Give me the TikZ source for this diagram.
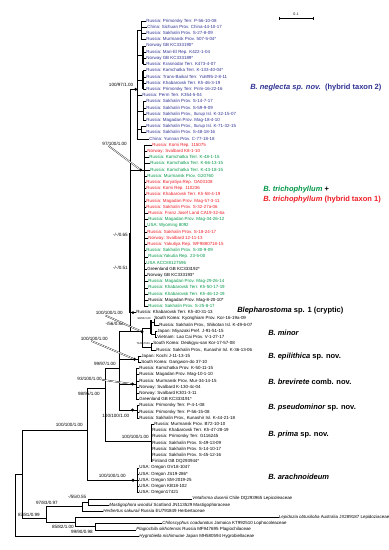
\documentclass[tikz,border=0pt]{standalone}
\usepackage{fontspec}
\setmainfont{Liberation Sans}
\definecolor{nb}{RGB}{46,49,146}
\definecolor{gr}{RGB}{0,150,70}
\definecolor{rd}{RGB}{237,28,36}
\begin{document}
\begin{tikzpicture}[x=1pt,y=-1pt,line width=0.5pt,
  leaf/.style={anchor=west,inner sep=0pt,text height=3.2pt,text depth=0.9pt,font=\fontsize{4.45}{5}\selectfont},
  sup/.style={anchor=east,inner sep=0pt,font=\fontsize{4.6}{5}\selectfont},
  tinysup/.style={anchor=east,inner sep=0pt,font=\fontsize{2.8}{3}\selectfont},
  clade/.style={anchor=west,inner sep=0pt,font=\fontsize{7.5}{8}\selectfont\bfseries},
  dotn/.style={circle,fill=black,inner sep=0pt,minimum size=3.2pt},
  ptr/.style={double=white,double distance=0.8pt,line width=0.3pt},
  bar/.style={line width=1.3pt}]
\useasboundingbox (0,0) rectangle (389,550);
% ---------------- leaves ----------------
\foreach \i/\x/\c/\t in {
1/147/nb/{Russia: Primorsky Terr. P-56-10-08},
2/148/nb/{China: Sichuan Prov. China-44-10-17},
3/147/nb/{Russia: Sakhalin Prov. S-27-8-09},
4/147/nb/{Russia: Murmansk Prov. 507-5-04*},
5/147/nb/{Norway GB  KC333190*},
6/147/nb/{Russia: Mari-El Rep. K422-1-04},
7/147/nb/{Norway GB KC333189*},
8/147/nb/{Russia: Krasnodar Terr. K473-4-07},
9/147/nb/{Russia: Kamchatka Terr. K-133-40-04*},
10/147/nb/{Russia: Trans-Baikal Terr. YuM95-2-8-11},
11/147/nb/{Russia: Khabarovsk Terr. Kh-46-3-19},
12/147/nb/{Russia: Primorsky Terr. Prim-16-22-16},
13/143/nb/{Russia: Perm Terr. K354-5-04},
14/147/nb/{Russia: Sakhalin Prov. S-14-7-17},
15/147/nb/{Russia: Sakhalin Prov. S-59-9-09},
16/147/nb/{Russia: Sakhalin Prov., Iturup Isl. K-32-15-07},
17/147/nb/{Russia: Magadan Prov. Mag-18-4-10},
18/147/nb/{Russia: Sakhalin Prov., Iturup Isl. K-71-32-15},
19/147/nb/{Russia: Sakhalin Prov. S-48-18-16},
20/150/nb/{China: Yunnan Prov. C-77-18-18},
21/153/rd/{Russia: Komi Rep. 115075},
22/148/rd/{Norway: Svalbard K8-1-10},
23/150/gr/{Russia: Kamchatka Terr. K-48-1-15},
24/151/gr/{Russia: Kamchatka Terr. K-66-13-15},
25/151/gr/{Russia: Kamchatka Terr. K-43-18-15},
26/148/gr/{Russia: Murmansk Prov. G20760},
27/147/rd/{Russia: Buryatiya Rep.  OA03108},
28/147/rd/{Russia: Komi Rep. 110236},
29/147/rd/{Russia: Khabarovsk Terr. Kh-58-4-19},
30/147/rd/{Russia: Magadan Prov. Mag-57-3-11},
31/147/rd/{Russia: Sakhalin Prov. S-32-27a-06},
32/149/rd/{Russia: Franz Josef Land CA19-32-6a},
33/149/gr/{Russia: Magadan Prov. Mag-34-26-12},
34/148/gr/{USA: Wyoming 8092},
35/148/rd/{Russia: Sakhalin Prov. S-18-24-17},
36/149/rd/{Norway: Svalbard 12-11-13},
37/148/rd/{Russia: Yakutiya Rep. WF9880718-15},
38/147/gr/{Russia: Sakhalin Prov. S-30-9-09},
39/149/gr/{Russia:Yakutia Rep. 23-5-00},
40/147/gr/{USA ACC\#8127596},
41/148/black/{Greenland GB KC333192*},
42/148/black/{Norway GB KC333193*},
43/149/gr/{Russia: Magadan Prov. Mag-29-26-14},
44/149/gr/{Russia: Khabarovsk Terr. Kh-50-17-19},
45/149/gr/{Russia: Khabarovsk Terr. Kh-46-12-19},
46/149/black/{Russia: Magadan Prov. Mag-8-20-10*},
47/149/gr/{Russia: Sakhalin Prov. S-25-8-17},
48/137/black/{Russia: Khabarovsk Terr. Kh-40-31-13},
49/155/black/{South Korea: Kyonghiam Prov. Kor-16-19a-09},
50/160/black/{Russia: Sakhalin Prov., Shikotan Isl. K-49-6-07},
51/158/black/{Japan: Miyazaki Pref. J-91-51-15},
52/158/black/{Vietnam: Lao Cai Prov. V-1-27-17},
53/154/black/{South Korea: Deokgyu-san Kor-17-57-08},
54/157/black/{Russia: Sakhalin Prov., Kunashir Isl. K-36-13-06},
55/142/black/{Japan: Kochi J-11-13-15},
56/142/black/{South Korea: Gangwon-do  37-10},
57/140/black/{Russia: Kamchatka Prov. K-50-11-15},
58/140/black/{Russia: Magadan Prov. Mag-10-1-10},
59/140/black/{Russia: Murmansk Prov. Mur-34-14-15},
60/140/black/{Norway: Svalbard K-130-4c-04},
61/140/black/{Norway: Svalbard K301-3-11},
62/140/black/{Greenland GB KC333191*},
63/140/black/{Russia: Primorsky Terr. P-4-1-08},
64/140/black/{Russia: Primorsky Terr. P-56-15-08},
65/140/black/{Russia: Sakhalin Prov., Kunashir Isl. K-44-21-18},
66/155/black/{Russia: Murmansk Prov. B72-10-10},
67/153/black/{Russia: Khabarovsk Terr. Kh-47-28-19},
68/153/black/{Russia: Primorsky Terr.  G116245},
69/153/black/{Russia: Sakhalin Prov. S-49-13-09},
70/153/black/{Russia: Sakhalin Prov. S-14-10-17},
71/153/black/{Russia: Sakhalin Prov. S-45-12-16},
72/153/black/{Finland GB DQ293944*},
73/140/black/{USA: Oregon GV18-1047},
74/140/black/{USA: Oregon JS19-286*},
75/140/black/{USA: Oregon SM-2019-25},
76/140/black/{USA: Oregon KB18-102},
77/140/black/{USA: Oregon17421},
78/193/black/{{\itshape Vetaforma dusenii} Chile DQ293965 Lepicoleaceae},
79/110/black/{{\itshape Mastigophora woodsii}  Scotland JN113529 Mastigophoraceae},
80/104/black/{{\itshape Herbertus sakuraii} Russia EU791849 Herbertaceae},
81/279.5/black/{{\itshape Lepidozia obtusiloba} Australia JX289187 Lepidoziaceae},
82/163/black/{{\itshape Chiloscyphus coadunatus} Jamaica KT992510 Lophocoleaceae},
83/137/black/{{\itshape Plagiochila sikhotensis} Russia MF947695 Plagiochilaceae},
84/140/black/{{\itshape Hygrobiella nishimurae} Japan MH580594 Hygrobiellaceae}}{
  \pgfmathsetmacro{\yy}{21+(\i-1)*6.205}
  \node[leaf,text=\c] (l\i) at (\x-0.8,\yy) {\t};
}
% ---------------- internal nodes ----------------
\coordinate (RT) at (15,474);
\coordinate (R2) at (22,474);
\coordinate (IN) at (87,430);
\coordinate (N1) at (105.7,388);
\coordinate (N2) at (119.5,368);
\coordinate (SP) at (130,331.7);
\coordinate (NG) at (137,89.3);
\coordinate (S1) at (141,30.3);
\coordinate (S2) at (143,55.1);
\coordinate (S3) at (143,80.0);
\coordinate (S4) at (143,111.0);
\coordinate (S5) at (141,129.6);
\coordinate (TR) at (144.5,169.9);
\coordinate (MN) at (142,331.7);
\coordinate (M1) at (151,328.1);
\coordinate (M1a) at (154,321.9);
\coordinate (M1b) at (155.5,334.4);
\coordinate (M2) at (151,346.8);
\coordinate (EP) at (138,359.2);
\coordinate (BR) at (136,384);
\coordinate (PS) at (137,410);
\coordinate (PR) at (151,441);
\coordinate (AR) at (137,480.2);
\coordinate (OG) at (46,518);
\coordinate (C1) at (82,506.6);
\coordinate (VM) at (88,501.9);
\coordinate (C2) at (75,522);
\coordinate (CP) at (95,526.7);
% ---------------- branches ----------------
\draw (RT) |- (l84.west);
\draw (RT) -- (R2);
\draw (R2) |- (IN);
\draw (R2) |- (OG);
\draw (IN) |- (N1);
\draw (IN) |- (AR);
\draw (N1) |- (N2);
\draw (N1) |- (PR);
\draw (N2) |- (SP);
\draw (N2) |- (EP);
\draw (N2) |- (BR);
\draw (N2) |- (PS);
\draw (SP) |- (NG);
\draw (SP) |- (TR);
\draw (SP) |- (l48.west);
\draw (SP) -- (MN);
\foreach \c in {S1,S2,S3,S4,S5} {\draw (NG) |- (\c);}
\draw (NG) |- (l13.west);
\draw (NG) |- (l20.west);
\foreach \p/\a/\b in {S1/1/4,S2/5/8,S3/9/12,S4/14/17,S5/18/19,TR/21/47,EP/55/56,BR/57/62,PS/63/65,PR/66/72,AR/73/77}{
  \foreach \i in {\a,...,\b} {\draw (\p) |- (l\i.west);}
}
\draw (MN) |- (M1);
\draw (MN) |- (M2);
\draw (M1) |- (M1a);
\draw (M1) |- (M1b);
\draw (M1a) |- (l49.west);
\draw (M1a) |- (l50.west);
\draw (M1b) |- (l51.west);
\draw (M1b) |- (l52.west);
\draw (M2) |- (l53.west);
\draw (M2) |- (l54.west);
\draw (OG) |- (C1);
\draw (OG) |- (C2);
\draw (C1) |- (VM);
\draw (C1) |- (l80.west);
\draw (VM) |- (l78.west);
\draw (VM) |- (l79.west);
\draw (C2) |- (l81.west);
\draw (C2) |- (CP);
\draw (CP) |- (l82.west);
\draw (CP) |- (l83.west);
% thick (short) segments
\draw[bar] (143,45.8) -- (143,64.4);
\draw[bar] (143,70.6) -- (143,89.3);
\draw[bar] (129.8,233) -- (129.8,312.6);
\draw[bar] (144.5,250.6) -- (144.5,263);
\draw[bar] (151,320) -- (151,334);
% dots
\node[dotn] (dNG) at (135.7,89.3) {};
\node[dotn] (dTR) at (140.7,169.9) {};
\node[dotn] (d48) at (133,312.6) {};
\node[dotn] (dMN) at (142,331.7) {};
\node[dotn] (dEP) at (134.5,359.2) {};
\node[dotn] (dBR) at (132.5,384) {};
\node[dotn] (dPS) at (132.5,410) {};
\node[dotn] (dAR) at (133,480.2) {};
% ---------------- support values ----------------
\node[sup] (sNG) at (133.5,84.5) {100/97/1.00};
\node[sup] (sTR) at (127,143.5) {97/100/1.00};
\node[sup] (s65) at (128,235) {-/-/0.65};
\node[sup] (s51) at (128,268) {-/-/0.51};
\node[sup] (sMN) at (123,313) {100/100/1.00};
\node[sup] (sSP) at (124,323.5) {-/56/0.88};
\node[tinysup] (sM1) at (151,318.5) {99/93/1.00};
\node[tinysup] (sM2) at (150,343) {71/84/0.84};
\node[sup] (sEP) at (108,338.5) {100/100/1.00};
\node[sup] (sN2) at (116,363.5) {99/97/1.00};
\node[sup] (sBR) at (102,379) {93/100/1.00};
\node[sup] (sN1) at (100,393.5) {98/95/1.00};
\node[sup] (sPS) at (129.5,415.5) {100/100/1.00};
\node[sup] (sIN) at (83,424.5) {100/100/1.00};
\node[sup] (sPR) at (149,436.5) {100/100/1.00};
\node[sup] (sAR) at (126,475.5) {100/100/1.00};
\node[sup] (sVM) at (86.5,497) {-/55/0.55};
\node[sup] (sC1) at (58,502.5) {97/83/0.97};
\node[sup] (sOG) at (40,514.5) {87/81/0.99};
\node[sup] (sC2) at (74,527) {85/82/1.00};
\node[sup] (sCP) at (93,532) {99/90/0.98};
% pointers
\draw[ptr] (sTR.south) ++(-6,0.5) -- (dTR);
\draw[ptr] (sMN.south) ++(-4,0.5) -- (dMN);
\draw[ptr] (sEP.south) ++(-3,0.5) -- (dEP);
\draw[ptr] (sBR.east) ++(0,0.8) -- (dBR);
% ---------------- clade labels ----------------
\node[clade,text=nb] (cNG) at (250,87.3) {\itshape B. neglecta sp. nov.\ \ \upshape (hybrid taxon 2)};
\node[clade] (cTR1) at (263,190) {\textcolor{gr}{\itshape B. trichophyllum} +};
\node[clade,text=rd] (cTR2) at (263,199.5) {\itshape B. trichophyllum \upshape (hybrid taxon 1)};
\node[clade] (cB1) at (237,311) {\itshape Blepharostoma \upshape sp. 1 (cryptic)};
\node[clade] (cMN) at (268,333) {\itshape B. minor};
\node[clade] (cEP) at (268,356.5) {\itshape B. epilithica \upshape sp. nov.};
\node[clade] (cBR) at (268,382) {\itshape B. brevirete \upshape comb. nov.};
\node[clade] (cPS) at (268,408) {\itshape B. pseudominor \upshape sp. nov.};
\node[clade] (cPR) at (268,435) {\itshape B. prima \upshape sp. nov.};
\node[clade] (cAR) at (268,477) {\itshape B. arachnoideum};
% ---------------- scale bar ----------------
\coordinate (sb1) at (279,18);
\coordinate (sb2) at (313,18);
\draw (sb1) -- (sb2);
\draw (sb1) ++(0,-1.5) -- ++(0,3);
\draw (sb2) ++(0,-1.5) -- ++(0,3);
\node[font=\fontsize{3.6}{4}\selectfont,inner sep=0pt] (sbl) at (296,14.5) {0.1};
\end{tikzpicture}
\end{document}
